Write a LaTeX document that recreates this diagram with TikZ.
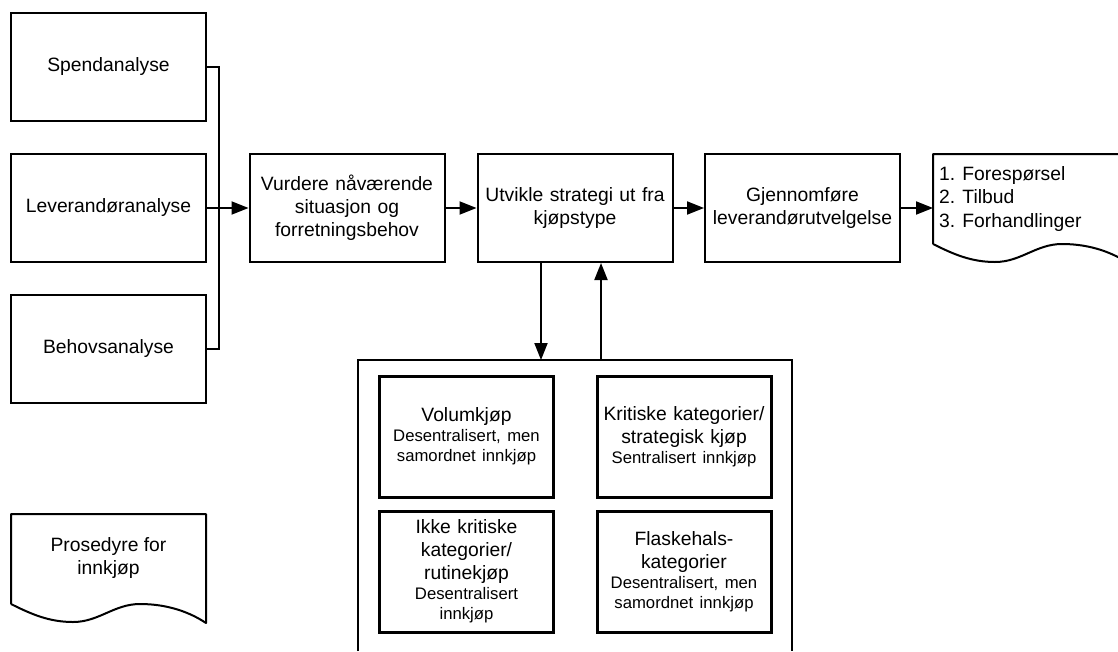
\documentclass[tikz,border=0pt]{standalone}
\usepackage{fontspec}
\setmainfont{Liberation Sans}
\usetikzlibrary{arrows.meta}
\newcommand\fsA{\fontsize{19.3}{23.2}\selectfont}
\newcommand\fsB{\fontsize{16.7}{20}\selectfont}
\begin{document}
\begin{tikzpicture}[x=1pt,y=-1pt,
  box/.style={draw, line width=2pt, minimum width=195pt, minimum height=108pt, inner sep=0pt, text width=187pt, align=center, font=\fsA},
  inbox/.style={draw, line width=3pt, minimum width=174pt, minimum height=121pt, inner sep=0pt, text width=168pt, align=center, font=\fsA},
  conn/.style={line width=2pt},
  arr/.style={line width=2pt, -{Triangle[length=17pt,width=13pt]}},
  wave/.style={line width=2pt, line join=round}
]
\useasboundingbox (0,0) rectangle (1118,651);

% left analysis boxes
\node[box] (spend) at (108.5,67) {Spendanalyse};
\node[box] (lev) at (108.5,208) {Leverandøranalyse};
\node[box] (beh) at (108.5,349) {Behovsanalyse};

% main process
\node[box] (vurd) at (347,208) {Vurdere nåværende\\situasjon og\\forretningsbehov};
\node[box] (utv) at (575,208) {Utvikle strategi ut fra\\kjøpstype};
\node[box] (gjen) at (802.5,208) {Gjennomføre\\leverandørutvelgelse};

% document shape (top right)
\begin{scope}[shift={(933,154)}]
  \draw[wave] (0,90) -- (0,0) -- (195,0) -- (195,109)
    .. controls (180,99) and (158,90) .. (129,90)
    .. controls (103,90) and (88,108) .. (62,108)
    .. controls (38,108) and (20,100) .. (0,90);
\end{scope}
\node[inner sep=0pt, minimum width=195pt, minimum height=90pt, anchor=north west] (doc) at (933,154) {};
\node[anchor=west, inner sep=0pt, align=left, font=\fsA] (doctext) at (939,199) {1. Forespørsel\\2. Tilbud\\3. Forhandlinger};

% document shape (bottom left)
\begin{scope}[shift={(11,514)}]
  \draw[wave] (0,90) -- (0,0) -- (195,0) -- (195,109)
    .. controls (180,99) and (158,90) .. (129,90)
    .. controls (103,90) and (88,108) .. (62,108)
    .. controls (38,108) and (20,100) .. (0,90);
\end{scope}
\node[align=center, inner sep=0pt, font=\fsA] (pros) at (108.5,558) {Prosedyre for\\innkjøp};

% container
\draw[conn] (358,651) -- (358,360) -- (792,360) -- (792,651);
\coordinate (dn) at (541,360);
\coordinate (up) at (601,360);

% inner category boxes
\node[inbox] (vol) at (466.5,436.5) {Volumkjøp\par\fsB Desentralisert, men\\samordnet innkjøp\par};
\node[inbox] (krit) at (684,436.5) {Kritiske kategorier/\\strategisk kjøp\par\fsB Sentralisert innkjøp\par};
\node[inbox] (ikke) at (466.5,571.5) {Ikke kritiske\\kategorier/\\rutinekjøp\par\fsB Desentralisert\\innkjøp\par};
\node[inbox] (flask) at (684,571.5) {Flaskehals-\\kategorier\par\fsB Desentralisert, men\\samordnet innkjøp\par};

% connectors
\draw[conn] (spend.east) -- ++(12,0) |- (beh.east);
\draw[arr] (lev.east) -- (vurd.west);
\draw[arr] (vurd.east) -- (utv.west);
\draw[arr] (utv.east) -- (gjen.west);
\draw[arr] (gjen.east) -- (gjen.east -| doc.west);
\draw[arr] (utv.south -| dn) -- (dn);
\draw[arr] (up) -- (utv.south -| up);
\end{tikzpicture}
\end{document}
